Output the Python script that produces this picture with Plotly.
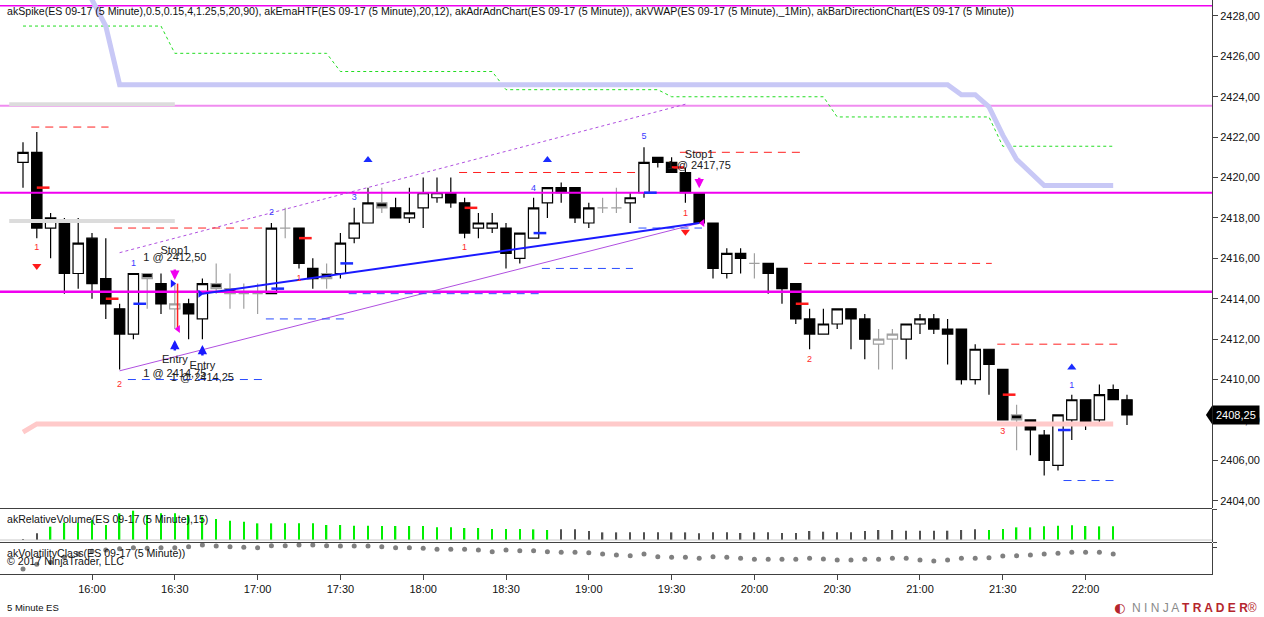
import pandas as pd
import plotly.graph_objects as go

# 5 minute ES 09-17 bars, 15:35 .. 22:15
bar_time = pd.date_range("2017-06-20 15:35", periods=81, freq="5min")

opens = [2420.75, 2421.25, 2417.5, 2417.75, 2415.25, 2417.0, 2415.0, 2413.5, 2412.25, 2415.25,
         2414.75, 2413.5, 2413.75, 2413.0, 2414.75, 2414.5, 2414.25, 2414.25, 2414.25, 2417.5,
         2417.5, 2415.5, 2415.25, 2415.25, 2417.0, 2417.75, 2418.75, 2418.5, 2418.0, 2418.5,
         2419.0, 2419.25, 2418.75, 2417.5, 2417.5, 2417.5, 2416.0, 2417.0, 2418.75, 2419.5,
         2419.5, 2417.75, 2418.5, 2418.5, 2418.75, 2419.25, 2421.0, 2420.75, 2420.25, 2419.25,
         2417.75, 2415.25, 2416.25, 2415.75, 2415.75, 2415.5, 2414.75, 2413.0, 2412.25, 2412.75,
         2413.5, 2413.0, 2411.75, 2412.0, 2412.0, 2412.75, 2413.0, 2412.5, 2412.5, 2410.0,
         2411.5, 2410.5, 2408.25, 2408.0, 2407.25, 2405.75, 2408.0, 2409.0, 2408.0, 2409.5,
         2409.0]
highs = [2421.75, 2422.25, 2418.25, 2418.0, 2418.0, 2417.25, 2417.0, 2413.75, 2415.25, 2415.25,
         2415.25, 2414.75, 2414.0, 2415.0, 2415.75, 2415.25, 2414.75, 2414.75, 2417.75, 2418.5,
         2417.5, 2416.0, 2415.75, 2417.25, 2418.5, 2419.5, 2419.5, 2419.0, 2419.5, 2420.0,
         2420.0, 2420.0, 2419.0, 2418.25, 2418.25, 2417.75, 2417.25, 2419.0, 2419.5, 2419.75,
         2419.5, 2418.75, 2419.0, 2419.5, 2419.25, 2421.5, 2421.0, 2421.0, 2420.5, 2419.25,
         2417.75, 2416.5, 2416.5, 2416.25, 2415.75, 2415.5, 2414.75, 2413.5, 2413.5, 2413.5,
         2413.5, 2413.25, 2412.5, 2412.5, 2412.75, 2413.25, 2413.25, 2413.0, 2412.5, 2411.75,
         2411.5, 2410.5, 2408.75, 2408.0, 2407.5, 2408.25, 2409.25, 2409.0, 2409.75, 2409.75,
         2409.25]
lows = [2419.5, 2417.0, 2416.0, 2414.25, 2414.5, 2414.0, 2413.0, 2410.5, 2412.0, 2413.5,
        2413.25, 2412.5, 2412.0, 2412.0, 2414.25, 2413.5, 2413.5, 2413.25, 2414.25, 2417.0,
        2415.5, 2414.5, 2414.5, 2415.0, 2416.75, 2417.75, 2418.25, 2418.0, 2417.75, 2417.5,
        2418.75, 2418.5, 2417.0, 2417.0, 2417.25, 2415.5, 2415.75, 2417.0, 2418.0, 2418.75,
        2417.75, 2417.5, 2418.25, 2418.25, 2417.75, 2419.0, 2420.5, 2420.25, 2418.75, 2417.75,
        2415.0, 2415.0, 2415.25, 2415.0, 2414.25, 2413.75, 2412.75, 2411.5, 2412.25, 2412.5,
        2411.5, 2411.0, 2410.5, 2410.5, 2411.0, 2412.25, 2412.25, 2410.75, 2409.75, 2409.75,
        2409.25, 2408.0, 2406.5, 2406.25, 2405.25, 2405.5, 2407.0, 2407.5, 2407.75, 2409.0,
        2407.75]
closes = [2421.25, 2417.5, 2418.0, 2415.25, 2416.75, 2414.75, 2413.75, 2412.25, 2415.25, 2415.0,
          2413.75, 2413.75, 2413.25, 2414.75, 2414.5, 2414.25, 2414.25, 2414.25, 2417.5, 2417.5,
          2415.75, 2415.0, 2415.0, 2416.75, 2417.75, 2418.75, 2418.5, 2418.0, 2418.25, 2419.25,
          2419.25, 2418.75, 2417.25, 2417.75, 2417.75, 2416.25, 2417.25, 2418.5, 2419.5, 2419.25,
          2418.0, 2418.5, 2418.5, 2418.5, 2419.0, 2420.75, 2420.75, 2420.25, 2419.25, 2417.75,
          2415.5, 2416.25, 2416.0, 2415.75, 2415.25, 2414.5, 2413.0, 2412.25, 2412.75, 2413.5,
          2413.0, 2412.0, 2412.0, 2412.25, 2412.75, 2413.0, 2412.5, 2412.25, 2410.0, 2411.5,
          2410.75, 2408.0, 2408.0, 2407.5, 2406.0, 2408.25, 2409.0, 2407.75, 2409.25, 2409.0,
          2408.25]
# small / inside bars painted gray
gray_bars = [10, 12, 15, 16, 17, 18, 20, 23, 27, 43, 44, 54, 63, 64, 73]

# akRelativeVolume(15) and akVolatilityClass, bars 1..80
rel_volume = [0.2, 2.0, 4.0, 5.2, 5.2, 6.0, 4.5, 8.0, 8.8, 7.5,
              8.0, 8.0, 7.5, 7.0, 6.3, 5.8, 5.5, 5.0, 5.0, 5.0,
              5.0, 5.0, 4.5, 4.5, 4.3, 4.3, 4.2, 4.2, 4.2, 4.2,
              3.8, 3.8, 3.6, 3.6, 3.3, 3.3, 3.3, 3.2, 3.0, 3.2,
              3.2, 2.7, 2.3, 2.3, 2.3, 2.3, 2.3, 2.3, 2.3, 2.0,
              2.3, 2.3, 2.1, 2.3, 2.3, 2.1, 2.1, 2.7, 2.5, 2.3,
              2.3, 2.7, 3.0, 3.0, 2.8, 2.8, 2.8, 2.8, 3.0, 3.2,
              3.0, 3.3, 3.8, 3.8, 4.1, 4.3, 4.4, 4.2, 4.1, 4.1]
high_volume_bars = list(range(3, 40)) + list(range(71, 81))
volatility = [1.5, 2.9, 3.5, 5.0, 6.0, 6.8, 7.2, 7.6, 7.9, 7.7,
              7.9, 7.9, 8.2, 8.7, 8.4, 8.2, 8.0, 7.9, 8.5, 8.5,
              8.7, 8.7, 8.5, 8.4, 8.4, 8.4, 8.2, 7.9, 7.9, 7.7,
              7.4, 7.4, 7.4, 7.2, 6.7, 7.2, 7.0, 7.0, 6.7, 6.5,
              6.5, 6.4, 6.0, 5.7, 5.5, 6.0, 5.2, 5.0, 5.0, 4.7,
              5.2, 5.0, 4.7, 4.4, 4.4, 4.4, 4.4, 4.7, 4.5, 4.2,
              4.2, 4.4, 4.4, 4.7, 4.7, 4.2, 3.9, 4.2, 4.7, 4.7,
              4.9, 5.4, 5.5, 5.7, 6.0, 6.2, 6.5, 6.5, 6.5, 6.0]

# akEmaHTF (green dotted) and slow band (lavender), bars 1..80
ema_htf = ([2427.5] * 11 + [2426.15] * 12 + [2425.25] * 12 + [2424.35] * 12
           + [2424.0] * 12 + [2423.0] * 12 + [2421.55] * 9)
ema_band_bars = list(range(5, 81))
ema_band = ([2430.5, 2428.8, 2427.5] + [2424.6] * 61
            + [2424.1, 2424.1, 2423.5, 2422.1, 2420.9, 2420.25] + [2419.6] * 6)
vwap_band = [2407.4] + [2407.8] * 79

# horizontal levels
magenta_levels = [2428.5, 2419.25, 2414.35]
violet_level = 2423.55
adr_levels = [2423.63, 2417.85]
adr_span = ["2017-06-20 15:30", "2017-06-20 16:30"]

# channel: (bar, price) end points
channel_upper = [(8, 2416.28), (49, 2423.63)]
channel_lower = [(8, 2410.43), (50, 2417.74)]

# dashed levels: start, end, price
red_dashes = [("15:38", "16:06", 2422.5), ("16:08", "17:03", 2417.5), ("18:13", "19:17", 2420.25),
              ("19:33", "20:17", 2421.25), ("20:18", "21:26", 2415.75), ("21:28", "22:12", 2411.75)]
blue_dashes = [("16:13", "17:02", 2410.0), ("17:03", "17:32", 2413.0), ("17:33", "18:42", 2414.25),
               ("18:43", "19:16", 2415.5), ("19:18", "19:41", 2417.5), ("21:52", "22:12", 2405.0)]

# bar direction ticks
red_ticks = [(2, 2419.5), (7, 2414.0), (21, 2417.0), (33, 2418.5), (48, 2420.5), (57, 2413.75), (72, 2409.25)]
blue_ticks = [(9, 2413.75), (19, 2414.5), (24, 2415.75), (38, 2417.25), (46, 2419.25), (76, 2407.5)]

# spike signals
up_signals = [(26, 2420.87), (39, 2420.87), (77, 2410.6)]
down_signals = [(2, 2415.62), (49, 2417.32)]
red_counts = [(2, "1", 2416.5), (8, "2", 2409.73), (21, "1", 2415.0), (33, "1", 2416.5),
              (49, "1", 2418.23), (58, "2", 2410.97), (72, "3", 2407.42)]
blue_counts = [(9, "1", 2415.72), (19, "2", 2418.26), (25, "3", 2419.0), (38, "4", 2419.47),
               (46, "5", 2422.02), (77, "1", 2409.68)]

# trades
entries = [(12, 2414.75, "1 @ 2414,75"), (14, 2414.25, "1 @ 2414,25")]
exits = [(12, 2412.5, "1 @ 2412,50"), (50, 2417.75, "1 @ 2417,75")]

price_ticks = [2404, 2406, 2408, 2410, 2412, 2414, 2416, 2418, 2420, 2422, 2424, 2426, 2428]
time_ticks = ["16:00", "16:30", "17:00", "17:30", "18:00", "18:30", "19:00",
              "19:30", "20:00", "20:30", "21:00", "21:30", "22:00"]
last_price = 2408.25

FONT = "Liberation Sans, Arial, sans-serif"
x_start = pd.Timestamp("2017-06-20 15:26:40")
x_end = pd.Timestamp("2017-06-20 22:45:48")
day = "2017-06-20 "
MIN = pd.Timedelta(minutes=1)


def bt(i):
    return bar_time[i - 1]


fig = go.Figure()

# candles
norm = [i for i in range(1, 82) if i not in gray_bars]
for sel, lc in [(norm, "black"), (gray_bars, "#a0a0a0")]:
    fig.add_trace(go.Candlestick(
        x=[bt(i) for i in sel], open=[opens[i - 1] for i in sel], high=[highs[i - 1] for i in sel],
        low=[lows[i - 1] for i in sel], close=[closes[i - 1] for i in sel],
        increasing=dict(fillcolor="white", line=dict(color=lc, width=1.2)),
        decreasing=dict(fillcolor="black", line=dict(color=lc, width=1.2)),
        whiskerwidth=0, showlegend=False, hoverinfo="skip"))

# levels
for lv, w in zip(magenta_levels, [1.5, 2, 2.5]):
    fig.add_trace(go.Scatter(x=[x_start, x_end], y=[lv, lv], mode="lines",
                             line=dict(color="#f000f0", width=w), hoverinfo="skip"))
fig.add_trace(go.Scatter(x=[x_start, x_end], y=[violet_level] * 2, mode="lines",
                         line=dict(color="#f08cf0", width=2), hoverinfo="skip"))
for lv in adr_levels:
    fig.add_trace(go.Scatter(x=adr_span, y=[lv, lv], mode="lines",
                             line=dict(color="#dcdcdc", width=4), hoverinfo="skip"))

fig.add_trace(go.Scatter(x=bar_time[:80], y=ema_htf, mode="lines",
                         line=dict(color="#22dd22", width=1, dash="dot"), hoverinfo="skip"))
fig.add_trace(go.Scatter(x=[bt(i) for i in ema_band_bars], y=ema_band, mode="lines",
                         line=dict(color="#c8c8f6", width=5), hoverinfo="skip"))
fig.add_trace(go.Scatter(x=bar_time[:80], y=vwap_band, mode="lines",
                         line=dict(color="#ffcaca", width=5), hoverinfo="skip"))

fig.add_trace(go.Scatter(x=[bt(b) for b, p in channel_upper], y=[p for b, p in channel_upper],
                         mode="lines", line=dict(color="#b050e0", width=1, dash="dot"), hoverinfo="skip"))
fig.add_trace(go.Scatter(x=[bt(b) for b, p in channel_lower], y=[p for b, p in channel_lower],
                         mode="lines", line=dict(color="#b050e0", width=1), hoverinfo="skip"))

for dashes, col in [(red_dashes, "#ff2020"), (blue_dashes, "#2a4cff")]:
    xs, ys = [], []
    for a, b, p in dashes:
        xs += [day + a, day + b, None]
        ys += [p, p, None]
    fig.add_trace(go.Scatter(x=xs, y=ys, mode="lines", line=dict(color=col, width=1, dash="8px,6px"),
                             connectgaps=False, hoverinfo="skip"))

for ticks, col in [(red_ticks, "#ff1a1a"), (blue_ticks, "#1a2cff")]:
    xs, ys = [], []
    for b, p in ticks:
        xs += [bt(b), bt(b) + 4.6 * MIN, None]
        ys += [p, p, None]
    fig.add_trace(go.Scatter(x=xs, y=ys, mode="lines", line=dict(color=col, width=2.5), hoverinfo="skip"))

# trades
fig.add_trace(go.Scatter(x=[bt(entries[1][0]), bt(exits[1][0])], y=[entries[1][1], exits[1][1]],
                         mode="lines", line=dict(color="#1a1aff", width=2), hoverinfo="skip"))
fig.add_trace(go.Scatter(x=[bt(12) + MIN] * 2, y=[entries[0][1], exits[0][1]],
                         mode="lines", line=dict(color="#ff2020", width=1.5), hoverinfo="skip"))
fig.add_trace(go.Scatter(x=[bt(b) - 0.8 * MIN for b, p, t in entries], y=[p for b, p, t in entries],
                         mode="markers", marker=dict(symbol="triangle-right", size=7, color="#1a1aff"),
                         hoverinfo="skip"))
fig.add_trace(go.Scatter(x=[bt(b) + 1.2 * MIN for b, p, t in exits], y=[p for b, p, t in exits],
                         mode="markers", marker=dict(symbol="triangle-left", size=7, color="#f000f0"),
                         hoverinfo="skip"))

# signals
fig.add_trace(go.Scatter(x=[bt(b) for b, p in up_signals], y=[p for b, p in up_signals], mode="markers",
                         marker=dict(symbol="triangle-up", size=8, color="#1a2cff"), hoverinfo="skip"))
fig.add_trace(go.Scatter(x=[bt(b) for b, p in down_signals], y=[p for b, p in down_signals], mode="markers",
                         marker=dict(symbol="triangle-down", size=8, color="#ff1a1a"), hoverinfo="skip"))
for counts, col in [(red_counts, "#ff2a2a"), (blue_counts, "#3a3aff")]:
    fig.add_trace(go.Scatter(x=[bt(b) for b, t, p in counts], y=[p for b, t, p in counts],
                             text=[t for b, t, p in counts], mode="text",
                             textfont=dict(family=FONT, size=9, color=col), hoverinfo="skip"))

# trade labels
lab_x, lab_y, lab_t = [], [], []
for b, p, t in exits:
    lab_x += [bt(b), bt(b)]
    lab_y += [p + 3.85 if b == 12 else p + 3.33, p + 3.5 if b == 12 else p + 2.79]
    lab_t += ["Stop1", t]
for b, p, t in entries:
    lab_x += [bt(b), bt(b)]
    lab_y += [p - 3.81 if b == 12 else p - 3.61, p - 4.47 if b == 12 else p - 4.19]
    lab_t += ["Entry", t]
fig.add_trace(go.Scatter(x=lab_x, y=lab_y, text=lab_t, mode="text",
                         textfont=dict(family=FONT, size=11, color="#202020"), hoverinfo="skip"))

# lower panels
fig.add_trace(go.Bar(x=bar_time[:80], y=rel_volume, yaxis="y2", width=32000,
                     marker=dict(color=["#00f000" if i in high_volume_bars else "#505050" for i in range(1, 81)],
                                 line=dict(width=0)), hoverinfo="skip"))
fig.add_trace(go.Scatter(x=bar_time[:80], y=volatility, yaxis="y3", mode="markers",
                         marker=dict(size=5, color="#808080"), hoverinfo="skip"))

# trade arrows
arrows = [(12, 2414.93, -12, "#f000f0"), (50, 2419.47, -12, "#f000f0"),
          (12, 2411.96, 12, "#1a1aff"), (14, 2411.71, 12, "#1a1aff")]
for b, p, off, col in arrows:
    fig.add_annotation(x=bt(b), y=p, ax=0, ay=off, text="", showarrow=True, arrowhead=2,
                       arrowsize=0.75, arrowwidth=2.5, arrowcolor=col, xref="x", yref="y")

texts = [
    (0.004, 0.9808, "akSpike(ES 09-17 (5 Minute),0.5,0.15,4,1.25,5,20,90), akEmaHTF(ES 09-17 (5 Minute),20,12), "
                    "akAdrAdnChart(ES 09-17 (5 Minute)), akVWAP(ES 09-17 (5 Minute),_1Min), "
                    "akBarDirectionChart(ES 09-17 (5 Minute))", 10.6),
    (0.004, 0.0958, "akRelativeVolume(ES 09-17 (5 Minute),15)", 10.6),
    (0.004, 0.0366, "akVolatilityClass(ES 09-17 (5 Minute))", 10.6),
    (0.004, 0.0226, "© 2017 NinjaTrader, LLC", 10.6),
    (0.004, -0.0575, "5 Minute ES", 9.5),
]
for x, y, t, s in texts:
    fig.add_annotation(x=x, y=y, xref="paper", yref="paper", text=t, showarrow=False, xanchor="left",
                       yanchor="middle", font=dict(family=FONT, size=s, color="#111"))

fig.add_annotation(x=1.0385, y=-0.059, xref="paper", yref="paper", xanchor="right", yanchor="middle",
                   showarrow=False,
                   text="<span style='color:#8a8a8a'>N I N J A </span><span style='color:#b5252d'><b>T R A D E R</b></span>"
                        "<span style='color:#b5252d'>®</span>",
                   font=dict(family=FONT, size=12))
fig.add_annotation(x=0.9235, y=-0.059, xref="paper", yref="paper", xanchor="center", yanchor="middle",
                   showarrow=False, text="<span style='color:#b5252d'>◐</span>",
                   font=dict(family="DejaVu Sans", size=13))
fig.add_annotation(x=1.0, y=last_price, xref="paper", yref="y", xanchor="left", yanchor="middle",
                   showarrow=False, text="2408,25", bgcolor="black", borderpad=3,
                   font=dict(family=FONT, size=11, color="white"))

fig.update_layout(
    width=1264, height=617, template="none", showlegend=False,
    margin=dict(l=0, r=52, t=0, b=43, pad=0),
    paper_bgcolor="white", plot_bgcolor="white",
    boxgap=0.25, boxgroupgap=0,
    xaxis=dict(range=[x_start, x_end], anchor="y3", rangeslider=dict(visible=False),
               tickvals=[day + t for t in time_ticks], ticktext=time_ticks, ticks="outside",
               ticklen=5, tickcolor="#444", showline=True, linecolor="#404040", showgrid=False,
               zeroline=False, tickfont=dict(family=FONT, size=11, color="#111"), automargin=False),
    yaxis=dict(domain=[0.115, 1], range=[2403.64, 2428.79], side="right", tickvals=price_ticks,
               ticktext=[f"{v},00" for v in price_ticks], ticks="outside", ticklen=5, tickcolor="#444",
               showline=True, linecolor="#404040", showgrid=False, zeroline=False,
               tickfont=dict(family=FONT, size=11, color="#111"), automargin=False),
    yaxis2=dict(domain=[0.0557, 0.1132], range=[-0.6, 9.3], side="right", anchor="x",
                showticklabels=False, ticks="outside", ticklen=4, tickvals=[-0.6, 9.3], tickcolor="#444",
                showline=True, linecolor="#404040", showgrid=False, zeroline=False, automargin=False),
    yaxis3=dict(domain=[0, 0.054], range=[0, 9.3], side="right", anchor="x",
                showticklabels=False, ticks="outside", ticklen=4, tickvals=[8.0], tickcolor="#444",
                showline=True, linecolor="#404040", showgrid=False, zeroline=False, automargin=False),
    shapes=[
        dict(type="line", xref="paper", yref="paper", x0=0, x1=1, y0=0.1141, y1=0.1141,
             line=dict(color="#404040", width=1)),
        dict(type="line", xref="paper", yref="paper", x0=0, x1=1, y0=0.0549, y1=0.0549,
             line=dict(color="#404040", width=1)),
        dict(type="line", xref="paper", yref="y2", x0=0, x1=1, y0=0, y1=0,
             line=dict(color="#c8c8c8", width=1)),
        # pointer of the last price box
        dict(type="path", xref="paper", yref="y", path="M 1.0,2408.7 L 0.995,2408.25 L 1.0,2407.8 Z",
             fillcolor="black", line=dict(width=0)),
    ],
)

# the page body has a default 8px margin; drop it so the chart sits at the window corner
fig.write_html("out.html", config={"displayModeBar": False},
               post_script="document.body.style.margin='0';")
